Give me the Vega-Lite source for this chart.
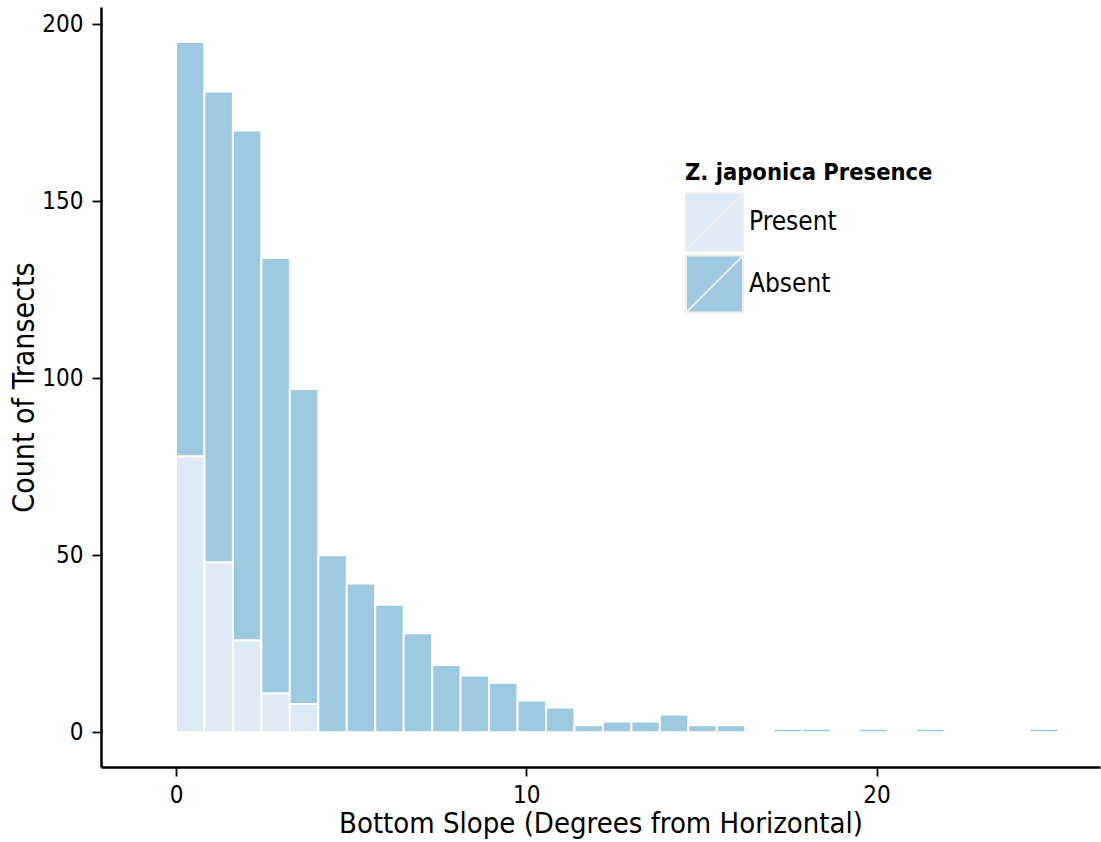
{
  "$schema": "https://vega.github.io/schema/vega-lite/v6.json",
  "width": 999,
  "height": 760,
  "autosize": {"type": "none"},
  "padding": {"left": 101, "top": 7, "right": 1, "bottom": 75},
  "background": "white",
  "config": {
    "view": {"stroke": null},
    "font": "DejaVu Sans Condensed",
    "axis": {"grid": false, "domainColor": "black", "domainWidth": 2.5, "tickColor": "black", "tickWidth": 1.8, "tickSize": 9, "labelColor": "black", "labelFontSize": 24, "labelFont": "DejaVu Sans Condensed", "titleFont": "DejaVu Sans Condensed", "titleFontWeight": "normal", "titleColor": "black", "titleFontSize": 29, "labelPadding": 7}
  },
  "data": {
    "values": [
      {"lo": 0, "hi": 0.8125, "presence": "Present", "count": 78},
      {"lo": 0, "hi": 0.8125, "presence": "Absent", "count": 117},
      {"lo": 0.8125, "hi": 1.625, "presence": "Present", "count": 48},
      {"lo": 0.8125, "hi": 1.625, "presence": "Absent", "count": 133},
      {"lo": 1.625, "hi": 2.4375, "presence": "Present", "count": 26},
      {"lo": 1.625, "hi": 2.4375, "presence": "Absent", "count": 144},
      {"lo": 2.4375, "hi": 3.25, "presence": "Present", "count": 11},
      {"lo": 2.4375, "hi": 3.25, "presence": "Absent", "count": 123},
      {"lo": 3.25, "hi": 4.0625, "presence": "Present", "count": 8},
      {"lo": 3.25, "hi": 4.0625, "presence": "Absent", "count": 89},
      {"lo": 4.0625, "hi": 4.875, "presence": "Absent", "count": 50},
      {"lo": 4.875, "hi": 5.6875, "presence": "Absent", "count": 42},
      {"lo": 5.6875, "hi": 6.5, "presence": "Absent", "count": 36},
      {"lo": 6.5, "hi": 7.3125, "presence": "Absent", "count": 28},
      {"lo": 7.3125, "hi": 8.125, "presence": "Absent", "count": 19},
      {"lo": 8.125, "hi": 8.9375, "presence": "Absent", "count": 16},
      {"lo": 8.9375, "hi": 9.75, "presence": "Absent", "count": 14},
      {"lo": 9.75, "hi": 10.5625, "presence": "Absent", "count": 9},
      {"lo": 10.5625, "hi": 11.375, "presence": "Absent", "count": 7},
      {"lo": 11.375, "hi": 12.1875, "presence": "Absent", "count": 2},
      {"lo": 12.1875, "hi": 13, "presence": "Absent", "count": 3},
      {"lo": 13, "hi": 13.8125, "presence": "Absent", "count": 3},
      {"lo": 13.8125, "hi": 14.625, "presence": "Absent", "count": 5},
      {"lo": 14.625, "hi": 15.4375, "presence": "Absent", "count": 2},
      {"lo": 15.4375, "hi": 16.25, "presence": "Absent", "count": 2},
      {"lo": 17.0625, "hi": 17.875, "presence": "Absent", "count": 1},
      {"lo": 17.875, "hi": 18.6875, "presence": "Absent", "count": 1},
      {"lo": 19.5, "hi": 20.3125, "presence": "Absent", "count": 1},
      {"lo": 21.125, "hi": 21.9375, "presence": "Absent", "count": 1},
      {"lo": 24.375, "hi": 25.1875, "presence": "Absent", "count": 1}
    ]
  },
  "transform": [
    {"stack": "count", "groupby": ["lo"], "sort": [{"field": "presence", "order": "descending"}], "as": ["y0", "y1"]}
  ],
  "mark": {"type": "bar", "stroke": "white", "strokeWidth": 2, "clip": true},
  "encoding": {
    "x": {
      "field": "lo", "type": "quantitative",
      "scale": {"domain": [-2.141, 26.378], "nice": false, "zero": false},
      "axis": {"values": [0, 10, 20], "title": "Bottom Slope (Degrees from Horizontal)", "titlePadding": 2}
    },
    "x2": {"field": "hi"},
    "y": {
      "field": "y1", "type": "quantitative",
      "scale": {"domain": [-9.82, 204.9], "nice": false, "zero": false},
      "axis": {"values": [0, 50, 100, 150, 200], "title": "Count of Transects", "titleFontSize": 30, "titlePadding": 2, "labelPadding": 9}
    },
    "y2": {"field": "y0"},
    "color": {
      "field": "presence", "type": "nominal",
      "scale": {"domain": ["Present", "Absent"], "range": ["#deebf7", "#9ecae1"]},
      "legend": {
        "title": "Z. japonica Presence",
        "orient": "none", "legendX": 584, "legendY": 154,
        "titleFontSize": 23.5, "titleFontWeight": "bold", "titleColor": "black", "titleFont": "DejaVu Sans Condensed", "titleLimit": 500,
        "titlePadding": 8,
        "symbolType": "M-1,-1H1V1H-1Z M-1,1L1,-1",
        "symbolSize": 3249, "symbolStrokeColor": "#eeeeee", "symbolStrokeWidth": 2, "symbolOpacity": 1,
        "rowPadding": -20,
        "labelFontSize": 26, "labelColor": "black", "labelOffset": 5, "labelFont": "DejaVu Sans Condensed"
      }
    }
  }
}
